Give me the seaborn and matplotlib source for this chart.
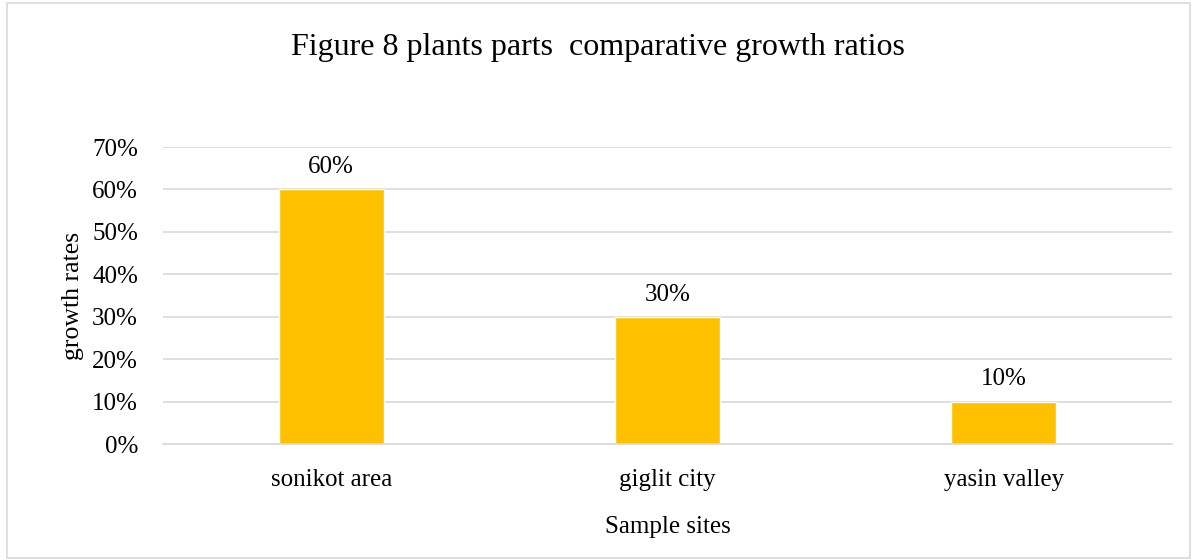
import matplotlib
matplotlib.use('Agg')
import matplotlib.pyplot as plt
import seaborn as sns
import pandas as pd
from matplotlib.ticker import PercentFormatter
from matplotlib.patches import Rectangle

# ── Data ─────────────────────────────────────────────
sites = ['sonikot area', 'giglit city', 'yasin valley']
growth = [0.60, 0.30, 0.10]
y_ticks = [0, 0.1, 0.2, 0.3, 0.4, 0.5, 0.6, 0.7]

df = pd.DataFrame({'site': sites, 'growth': growth})

# ── Style ───────────────────────────────────────────
sns.set_style('white')
plt.rcParams['font.family'] = ['Liberation Serif', 'DejaVu Serif']
plt.rcParams['text.color'] = 'black'
plt.rcParams['axes.labelcolor'] = 'black'

fig = plt.figure(figsize=(11.95, 5.6), dpi=100)
ax = fig.add_axes([0.1364, 0.2071, 0.8444, 0.5304])

sns.barplot(data=df, x='site', y='growth', color='#FFC000',
            saturation=1, width=0.312, ax=ax)

for p, val in zip(ax.patches, growth):
    ax.annotate(f'{val*100:.0f}%', (p.get_x() + p.get_width() / 2, val),
                xytext=(0, 8), textcoords='offset points',
                ha='center', va='bottom', fontsize=18, color='black')

ax.set_ylim(0, 0.7)
ax.set_yticks(y_ticks)
ax.yaxis.set_major_formatter(PercentFormatter(1.0, decimals=0))
ax.yaxis.grid(True, color='#D9D9D9', linewidth=1.2)
ax.set_axisbelow(True)
for side in ['top', 'right', 'left']:
    ax.spines[side].set_visible(False)
ax.spines['bottom'].set_color('#D9D9D9')
ax.spines['bottom'].set_linewidth(1.2)
ax.tick_params(axis='both', length=0, labelsize=18, colors='black')
ax.tick_params(axis='x', pad=18)
ax.tick_params(axis='y', pad=18)

ax.set_xlabel('Sample sites', fontsize=18, labelpad=18)
ax.set_ylabel('growth rates', fontsize=18.5, labelpad=6)

fig.text(0.5, 0.915, 'Figure 8 plants parts  comparative growth ratios',
         ha='center', va='center', fontsize=23, color='black')

# chart border
fig.patches.append(Rectangle((0.006, 0.004), 0.99, 0.99, transform=fig.transFigure,
                             fill=False, edgecolor='#D9D9D9', linewidth=1.2))

plt.savefig('out.png', dpi=100)
